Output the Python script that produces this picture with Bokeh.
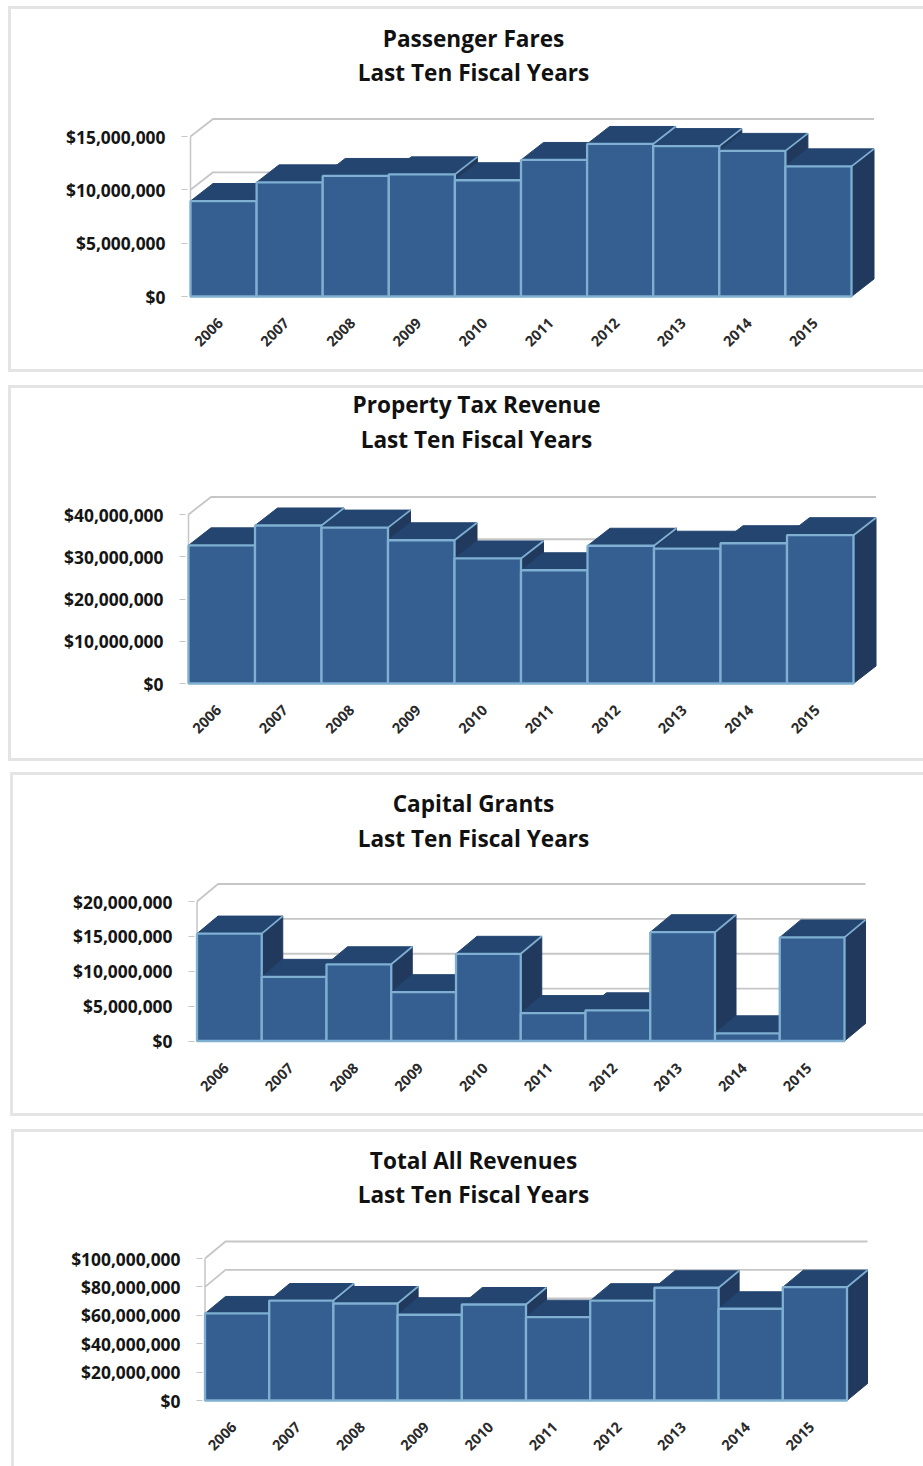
import math

from bokeh.core.properties import value
from bokeh.embed import file_html
from bokeh.layouts import column
from bokeh.models import FixedTicker, NumeralTickFormatter, Range1d
from bokeh.plotting import figure
from bokeh.resources import INLINE

# Fiscal years on the category axis
YEARS = ["2006", "2007", "2008", "2009", "2010", "2011", "2012", "2013", "2014", "2015"]

# Revenue per fiscal year, in dollars
PASSENGER_FARES = [8.95e6, 10.7e6, 11.3e6, 11.45e6, 10.9e6, 12.8e6, 14.3e6, 14.1e6, 13.65e6, 12.2e6]
PROPERTY_TAX = [32.7e6, 37.4e6, 36.9e6, 33.9e6, 29.6e6, 26.8e6, 32.6e6, 31.9e6, 33.2e6, 35.1e6]
CAPITAL_GRANTS = [15.4e6, 9.2e6, 11.0e6, 7.0e6, 12.5e6, 4.0e6, 4.4e6, 15.6e6, 1.1e6, 14.85e6]
TOTAL_REVENUES = [61.3e6, 70.4e6, 68.3e6, 60.4e6, 67.6e6, 58.7e6, 70.3e6, 79.4e6, 64.6e6, 79.8e6]

# Value axis ticks
FARES_TICKS = [0, 5e6, 10e6, 15e6]
TAX_TICKS = [0, 10e6, 20e6, 30e6, 40e6]
GRANTS_TICKS = [0, 5e6, 10e6, 15e6, 20e6]
TOTAL_TICKS = [0, 20e6, 40e6, 60e6, 80e6, 100e6]

FONT = "Open Sans"
FRONT = "#365f91"
SHADE = "#234570"
SIDE = "#21395c"
EDGE = "#7fb0d2"
GRID = "#c6c6c6"
BORDER = "#e4e4e4"
PAD = 3  # room below and left of the bars so that edge strokes are not clipped
YEAR_NUDGE = 3  # year labels sit slightly left of the bar centres
PAGE_W = 923


def panel_border(height, box):
    """CSS strips for the left, top and bottom rules of a panel that runs off the right edge."""
    bx, top, bottom = box
    rule = f"linear-gradient({BORDER},{BORDER})"
    strips = [(f"3px {min(bottom, height) - top}px", f"{bx}px {top}px"),
              (f"{PAGE_W - bx}px 3px", f"{bx}px {top}px")]
    if bottom < height:
        strips.append((f"{PAGE_W - bx}px 3px", f"{bx}px {bottom}px"))
    return {
        "background-image": ",".join([rule] * len(strips)),
        "background-size": ",".join(s[0] for s in strips),
        "background-position": ",".join(s[1] for s in strips),
        "background-repeat": "no-repeat",
    }


def chart(title, values, ticks, page_top, page_bottom, box, left, right, base, y_top, depth_x, depth_y, title_x, title_y):
    """One framed panel; left/right/base/y_top are page pixel positions of the bar block."""
    height = page_bottom - page_top
    n = len(values)
    cat_px = (right - left) / n
    val_px = (base - y_top) / ticks[-1]
    dx = depth_x / cat_px
    dy = depth_y / val_px

    border_left = round(left - PAD)
    border_bottom = round(page_bottom - base - PAD)
    to_x = lambda px: (px - left) / cat_px
    to_y = lambda py: (base - py) / val_px

    p = figure(
        width=PAGE_W,
        height=height,
        output_backend="svg",
        toolbar_location=None,
        frame_align=False,
        x_range=Range1d(to_x(border_left), to_x(PAGE_W)),
        y_range=Range1d(to_y(page_bottom - border_bottom), to_y(page_top)),
        min_border_left=border_left,
        min_border_right=0,
        min_border_top=0,
        min_border_bottom=border_bottom,
        outline_line_color=None,
        background_fill_alpha=0,
        border_fill_alpha=0,
        styles=panel_border(height, (box[0], box[1] - page_top, box[2] - page_top)),
    )
    p.grid.visible = False

    # Rear wall rules, with the slanted step from the front plane
    for t in ticks:
        p.line([0, dx, n + dx], [t, t + dy, t + dy], line_color=GRID, line_width=1.8)
    p.line([0, 0], [0, ticks[-1]], line_color=GRID, line_width=1.5)

    # Bars are painted left to right so each hides the side of its left neighbour
    for i, v in enumerate(values):
        a, b = i, i + 1
        p.patch([b, b + dx, b + dx, b], [0, dy, v + dy, v], fill_color=SIDE, line_color=SIDE, line_width=1)
        p.patch([a, a + dx, b + dx, b], [v, v + dy, v + dy, v], fill_color=SHADE, line_color=SHADE, line_width=1)
        if i > 0 and values[i - 1] >= v:
            p.line([a, a + dx], [values[i - 1], values[i - 1] + dy], line_color=EDGE, line_width=1.8)
        if i == n - 1:
            p.line([b, b + dx], [v, v + dy], line_color=EDGE, line_width=1.8)
        p.patch([a, b, b, a], [0, 0, v, v], fill_color=FRONT, line_color=EDGE, line_width=2.3)

    yax = p.yaxis[0]
    yax.ticker = FixedTicker(ticks=ticks)
    yax.formatter = NumeralTickFormatter(format="$0,0")
    yax.axis_line_color = None
    yax.major_tick_line_color = GRID
    yax.major_tick_out = 6
    yax.major_tick_in = 0
    yax.minor_tick_line_color = None
    yax.major_label_standoff = 16
    yax.major_label_text_font = FONT
    yax.major_label_text_font_style = "bold"
    yax.major_label_text_font_size = "17.4px"
    yax.major_label_text_color = "#151515"

    year_ticks = [i + 0.5 - YEAR_NUDGE / cat_px for i in range(n)]
    xax = p.xaxis[0]
    xax.ticker = FixedTicker(ticks=year_ticks)
    xax.major_label_overrides = dict(zip(year_ticks, YEARS))
    xax.major_label_orientation = math.pi / 4
    xax.axis_line_color = None
    xax.major_tick_line_color = None
    xax.minor_tick_line_color = None
    xax.major_label_standoff = 15
    xax.major_label_text_font = FONT
    xax.major_label_text_font_style = "bold"
    xax.major_label_text_font_size = "14.5px"
    xax.major_label_text_color = "#2a2a2a"

    # Two-line heading
    p.text(
        x=[to_x(title_x)] * 2,
        y=[to_y(ty - 1) for ty in title_y],
        text=[title, "Last Ten Fiscal Years"],
        text_align="center",
        text_baseline="middle",
        text_font=value(FONT),
        text_font_style="bold",
        text_font_size="22.6px",
        text_color="#111111",
    )
    return p


panels = [
    chart("Passenger Fares", PASSENGER_FARES, FARES_TICKS, 0, 378, (8, 6, 369), 190, 851, 296, 136, 22.5, 17.5, 473, (39, 73)),
    chart("Property Tax Revenue", PROPERTY_TAX, TAX_TICKS, 378, 766, (8, 385, 758), 188, 853, 683, 514, 22.5, 17.5, 476, (405, 440)),
    chart("Capital Grants", CAPITAL_GRANTS, GRANTS_TICKS, 766, 1122, (10, 772, 1113), 196.5, 844, 1040.5, 901, 21, 17.5, 473, (804, 839)),
    chart("Total All Revenues", TOTAL_REVENUES, TOTAL_TICKS, 1122, 1466, (11, 1129, 1490), 204.5, 846.5, 1400, 1258, 20.5, 17, 473, (1161, 1195)),
]

page = column(*panels, spacing=0)
open("out.html", "w").write(file_html(page, INLINE))
